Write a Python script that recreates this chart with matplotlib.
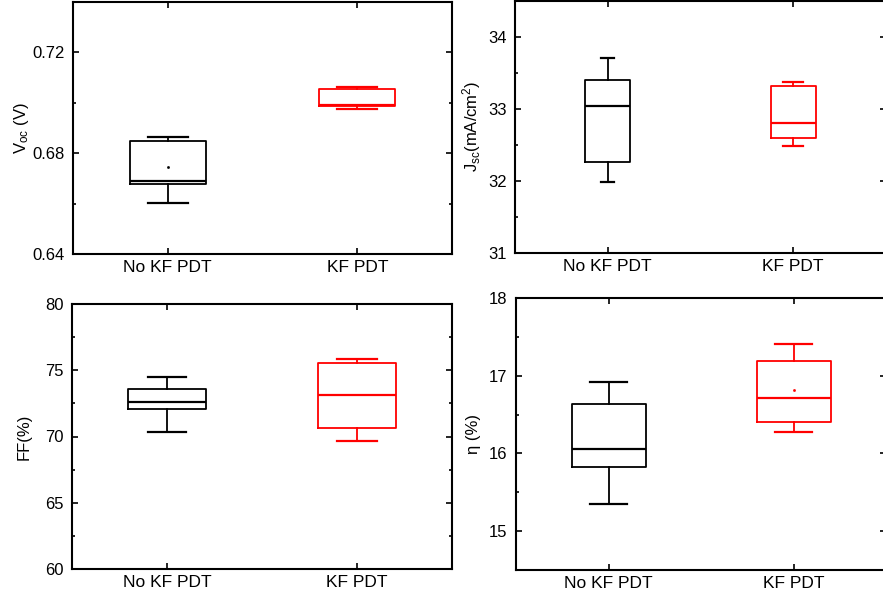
import matplotlib
matplotlib.use("Agg")
import matplotlib.pyplot as plt
from matplotlib.ticker import MultipleLocator

plt.rcParams['font.family'] = ['Liberation Sans', 'DejaVu Sans']
plt.rcParams['mathtext.fontset'] = 'custom'
plt.rcParams['mathtext.rm'] = 'Liberation Sans'
plt.rcParams['mathtext.it'] = 'Liberation Sans'

categories = ["No KF PDT", "KF PDT"]
colors = ["black", "red"]

# [whislo, q1, med, q3, whishi]
voc_nokf = [0.6603, 0.6676, 0.6689, 0.6847, 0.6865]
voc_kf = [0.6976, 0.6986, 0.6990, 0.7056, 0.7061]
voc_means = [0.6747, None]

jsc_nokf = [31.99, 32.26, 33.04, 33.40, 33.70]
jsc_kf = [32.49, 32.59, 32.80, 33.32, 33.37]
jsc_means = [None, None]

ff_nokf = [70.36, 72.05, 72.58, 73.58, 74.51]
ff_kf = [69.66, 70.66, 73.10, 75.52, 75.85]
ff_means = [None, None]

eta_nokf = [15.35, 15.83, 16.06, 16.64, 16.92]
eta_kf = [16.27, 16.40, 16.71, 17.19, 17.41]
eta_means = [None, 16.82]

W, H = 883, 603
fig = plt.figure(figsize=(W / 100, H / 100), dpi=100)


def axes_px(left, top, right, bottom):
    return fig.add_axes([left / W, 1 - bottom / H, (right - left) / W, (bottom - top) / H])


panels = [
    dict(rect=(73, 2, 452, 254), data=[voc_nokf, voc_kf], means=voc_means,
         ylim=(0.64, 0.74), major=0.04, minor=0.02, ylabel=r"V$_{\rm oc}$ (V)",
         labx=-0.135, widths=0.4, caps=[0.21, 0.21], fmt="{:.2f}"),
    dict(rect=(515, 0.5, 886, 253), data=[jsc_nokf, jsc_kf], means=jsc_means,
         ylim=(31, 34.5), major=1, minor=0.5, ylabel=r"J$_{\rm sc}$(mA/cm$^2$)",
         labx=-0.117, widths=0.245, caps=[0.07, 0.11], fmt="{:.0f}"),
    dict(rect=(72, 304, 452, 569), data=[ff_nokf, ff_kf], means=ff_means,
         ylim=(60, 80), major=5, minor=2.5, ylabel="FF(%)",
         labx=-0.125, widths=0.41, caps=[0.2, 0.21], fmt="{:.0f}"),
    dict(rect=(516, 298, 886, 570), data=[eta_nokf, eta_kf], means=eta_means,
         ylim=(14.5, 18), major=1, minor=0.5, ylabel="η (%)",
         labx=-0.114, widths=0.4, caps=[0.2, 0.2], fmt="{:.0f}"),
]

for p in panels:
    ax = axes_px(*p["rect"])
    for i, (vals, mean, col) in enumerate(zip(p["data"], p["means"], colors)):
        st = dict(whislo=vals[0], q1=vals[1], med=vals[2], q3=vals[3], whishi=vals[4],
                  fliers=[], label=categories[i])
        show_mean = mean is not None
        if show_mean:
            st["mean"] = mean
        ax.bxp([st], positions=[i + 1], widths=p["widths"], capwidths=[p["caps"][i]],
               showfliers=False, showmeans=show_mean,
               boxprops=dict(color=col, linewidth=1.3),
               whiskerprops=dict(color=col, linewidth=1.3),
               capprops=dict(color=col, linewidth=1.6),
               medianprops=dict(color=col, linewidth=1.6),
               meanprops=dict(marker='s', markersize=0.9, markerfacecolor=col,
                              markeredgecolor=col, linestyle='none'))
    ax.set_xlim(0.5, 2.5)
    ax.set_ylim(*p["ylim"])
    ax.set_xticks([1, 2])
    ax.set_xticklabels(categories)
    ax.yaxis.set_major_locator(MultipleLocator(p["major"]))
    ax.yaxis.set_minor_locator(MultipleLocator(p["minor"]))
    fmt = p["fmt"]
    ax.yaxis.set_major_formatter(matplotlib.ticker.FuncFormatter(lambda v, pos, f=fmt: f.format(v)))
    ax.tick_params(axis='both', which='both', direction='in', top=True, right=True,
                   width=1.2, colors='black')
    ax.tick_params(axis='x', which='major', labelsize=12.5, pad=4, length=4)
    ax.tick_params(axis='y', which='major', labelsize=12, pad=6, length=4)
    ax.tick_params(axis='y', which='minor', length=2.5)
    ax.tick_params(axis='x', which='minor', bottom=False, top=False)
    for s in ax.spines.values():
        s.set_linewidth(1.5)
    ax.set_ylabel(p["ylabel"], fontsize=12)
    ax.yaxis.label.set_va('center')
    ax.yaxis.set_label_coords(p["labx"], 0.5)

fig.savefig("out.png", dpi=100)
